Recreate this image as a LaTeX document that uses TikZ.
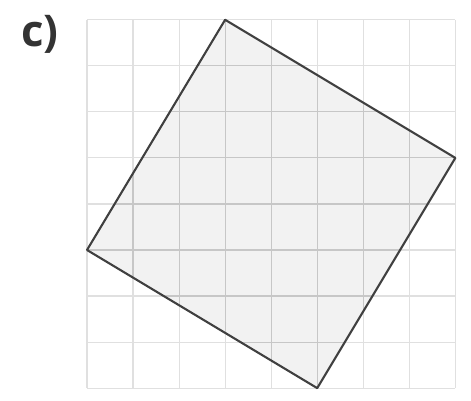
\documentclass[tikz,border=0pt]{standalone}
\usepackage{fontspec}
\setmainfont{Open Sans}
\begin{document}
\begin{tikzpicture}
        \useasboundingbox (-1.89,-0.26) rectangle (8.34,8.43);
        \coordinate (top) at (3,8);
        \coordinate (right) at (8,5);
        \coordinate (bottom) at (5,0);
        \coordinate (left) at (0,3);
        \fill[black!5] (top)--(right)--(bottom)--(left)--cycle;
        \draw[black!12,line width=0.7pt] (0,0) grid (8,8);
        \begin{scope}
            \clip (top)--(right)--(bottom)--(left)--cycle;
            \draw[black!22,line width=0.7pt] (0,0) grid (8,8);
        \end{scope}
        \draw[black!75,line width=1.3pt,line join=round] (top)--(right)--(bottom)--(left)--cycle;
        \node[black!80,font=\bfseries\fontsize{27}{27}\selectfont] (label) at (-1.02,7.68) {c)};
\end{tikzpicture}
\end{document}
